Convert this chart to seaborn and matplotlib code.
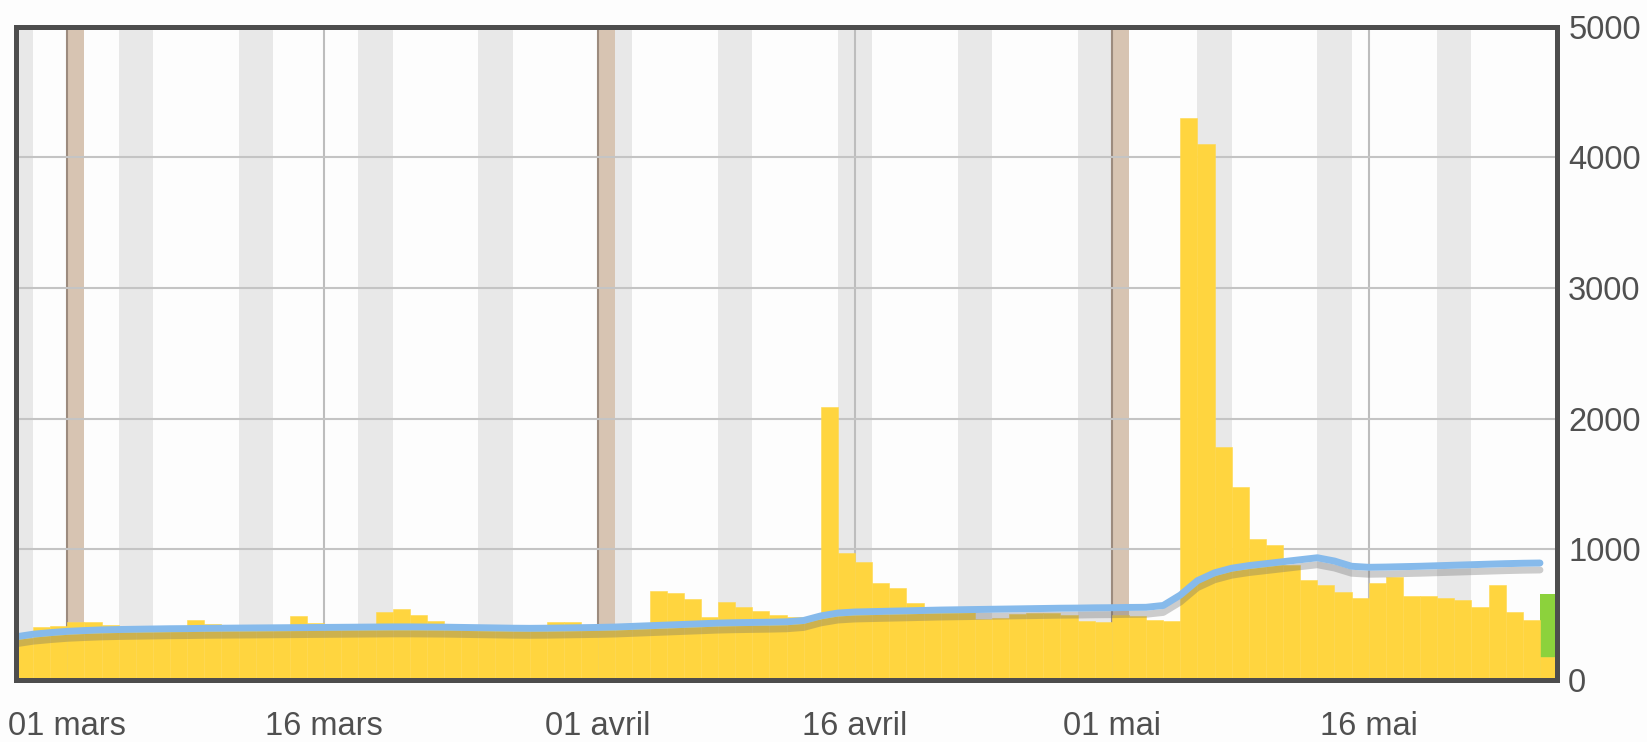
import matplotlib
matplotlib.use("Agg")
import matplotlib.pyplot as plt
import matplotlib.patheffects as pe
import numpy as np
import pandas as pd
import seaborn as sns

# daily views, 90 days starting 26 Feb 2017
start = "2017-02-26"
views = [320, 405, 410, 445, 440, 420, 405, 400, 410, 415,
         460, 425, 410, 405, 415, 420, 490, 435, 425, 420,
         430, 520, 540, 500, 450, 420, 405, 400, 395, 410,
         420, 445, 440, 410, 395, 390, 410, 680, 665, 620,
         480, 595, 560, 530, 500, 480, 470, 2090, 970, 900,
         740, 705, 590, 560, 540, 520, 470, 475, 505, 510,
         510, 500, 450, 440, 500, 490, 460, 455, 4300, 4100,
         1780, 1475, 1080, 1030, 880, 765, 727, 675, 625, 740,
         790, 640, 640, 630, 610, 560, 730, 520, 460, 176]

# moving average (blue line)
avg = [330, 350, 362, 372, 378, 383, 386, 388, 390, 392,
       393, 395, 396, 397, 398, 399, 400, 401, 402, 403,
       404, 405, 406, 406, 405, 404, 402, 400, 398, 396,
       395, 396, 398, 400, 402, 405, 410, 415, 420, 425,
       430, 435, 438, 440, 442, 445, 455, 490, 512, 520,
       523, 526, 529, 532, 535, 537, 539, 541, 543, 545,
       547, 549, 550, 552, 553, 555, 556, 570, 650, 760,
       820, 855, 875, 890, 905, 920, 935, 910, 870, 862,
       864, 867, 870, 874, 878, 882, 886, 890, 893, 895]

# current day, projected total (green)
today_total = 660

month_names = {3: "mars", 4: "avril", 5: "mai"}
y_ticks = [0, 1000, 2000, 3000, 4000, 5000]

dates = pd.date_range(start, periods=len(views))
days = np.arange(len(views))
df = pd.DataFrame({"day": days, "views": views, "avg": avg})
df_today = pd.DataFrame({"day": [days[-1]], "views": [today_total]})

sns.set_theme(style="white")
plt.rcParams["font.family"] = ["Liberation Sans", "DejaVu Sans"]

fig = plt.figure(figsize=(16.47, 7.42), dpi=100, facecolor="#FDFDFD")
ax = fig.add_axes([0.0097, 0.0836, 0.9357, 0.8806])
ax.set_facecolor("#FDFDFD")

# weekends, month starts, mid-month lines
for i, d in zip(days, dates):
    if d.weekday() >= 5:
        ax.axvspan(i - 0.5, i + 0.5, color="#E8E8E8", lw=0, zorder=0)
    if d.day == 1:
        ax.axvspan(i - 0.5, i + 0.5, color="#D7C4B2", lw=0, zorder=0.5)
        ax.axvline(i - 0.5, color="#9C8B7E", lw=1.5, zorder=0.6)
    if d.day == 16:
        ax.axvline(i - 0.5, color="#BDBDBD", lw=1.5, zorder=0.6)
for v in y_ticks[1:-1]:
    ax.axhline(v, color="#C4C4C4", lw=1.5, zorder=0.7)

sns.barplot(data=df_today, x="day", y="views", native_scale=True, color="#8CD23C",
            saturation=1, width=1, errorbar=None, linewidth=0, ax=ax, zorder=2)
sns.barplot(data=df, x="day", y="views", native_scale=True, color="#FFD53F",
            saturation=1, width=1, errorbar=None, linewidth=0.4, edgecolor="#FFD84D",
            ax=ax, zorder=2)

sns.lineplot(x=df["day"] - 0.5, y=df["avg"], color="#86BAEB", lw=5, ax=ax, zorder=3,
             path_effects=[pe.SimpleLineShadow(offset=(0, -5), shadow_color="#6a6a6a", alpha=0.33),
                           pe.Normal()])

ax.set_xlim(-0.5, len(views) - 0.5)
ax.set_ylim(0, 5000)

tick_pos = [i - 0.5 for i, d in zip(days, dates) if d.day in (1, 16)]
tick_lab = ["%02d %s" % (d.day, month_names[d.month]) for d in dates if d.day in (1, 16)]
ax.set_xticks(tick_pos)
ax.set_xticklabels(tick_lab)
ax.yaxis.tick_right()
ax.set_yticks(y_ticks)
ax.set_yticklabels([str(v) for v in y_ticks])
ax.tick_params(axis="x", length=0, pad=22, labelsize=23.5, labelcolor="#505050")
ax.tick_params(axis="y", length=0, pad=8, labelsize=23.5, labelcolor="#505050")
ax.set_xlabel("")
ax.set_ylabel("")
ax.grid(False)

for s in ax.spines.values():
    s.set_color("#4D4D4D")
    s.set_linewidth(3.6)
    s.set_zorder(5)

fig.savefig("out.png", dpi=100, facecolor=fig.get_facecolor())
